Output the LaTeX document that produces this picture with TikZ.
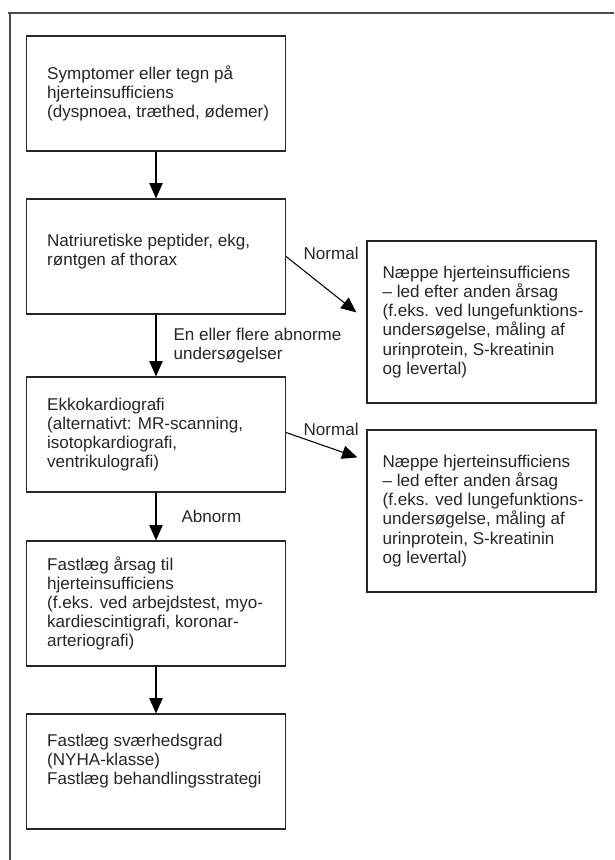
\documentclass[tikz,border=0pt]{standalone}
\usepackage{fontspec}
\setmainfont{Liberation Sans}
\usetikzlibrary{arrows.meta}

\begin{document}
\begin{tikzpicture}[x=0.75pt, y=-0.75pt]
\tikzstyle{box} = [draw=black!85, line width=0.9pt, minimum width=194.25pt, minimum height=86.25pt, inner sep=0pt]
\tikzstyle{sidebox} = [box, minimum width=171.75pt, minimum height=121.5pt]
\tikzstyle{txt} = [align=left, inner sep=0pt, text=black!85, font=\fontsize{12.8}{14.3}\selectfont]
\tikzstyle{arr} = [-{Triangle[width=10pt,length=11.5pt]}, line width=0.8pt]
\useasboundingbox (0,0) rectangle (614,860);

% open frame
\draw [black!70, line width=0.8pt] (8,13) -- (614,13);
\draw [black!70, line width=0.8pt] (10,13) -- (10,860);

\node [box] (sympt) at (156, 93.5) {};
\node [box] (tests) at (156, 256.5) {};
\node [box] (echo) at (156, 434.5) {};
\node [box, minimum height=93.75pt] (cause) at (156, 603.5) {};
\node [box] (sever) at (156, 771.5) {};
\node [sidebox] (unlik1) at (481.5, 322) {};
\node [sidebox] (unlik2) at (481.5, 511) {};

\node [txt, anchor=west] (symptT) at ([xshift=15.75pt]sympt.west)
  {Symptomer eller tegn på\\hjerteinsufficiens\\(dyspnoea, træthed, ødemer)};
\node [txt, anchor=west] (testsT) at ([xshift=15.75pt, yshift=3.75pt]tests.west)
  {Natriuretiske peptider, ekg,\\røntgen af thorax};
\node [txt, anchor=west] (echoT) at ([xshift=15.75pt]echo.west)
  {Ekkokardiografi\\(alternativt: MR-scanning,\\isotopkardiografi,\\ventrikulografi)};
\node [txt, anchor=west] (causeT) at ([xshift=15.75pt]cause.west)
  {Fastlæg årsag til\\hjerteinsufficiens\\(f.eks. ved arbejdstest, myo-\\kardiescintigrafi, koronar-\\arteriografi)};
\node [txt, anchor=west] (severT) at ([xshift=15.75pt, yshift=7.5pt]sever.west)
  {Fastlæg sværhedsgrad\\(NYHA-klasse)\\Fastlæg behandlingsstrategi};
\node [txt, anchor=west] (unlik1T) at ([xshift=12pt]unlik1.west)
  {Næppe hjerteinsufficiens\\– led efter anden årsag\\(f.eks. ved lungefunktions-\\undersøgelse, måling af\\urinprotein, S-kreatinin\\og levertal)};
\node [txt, anchor=west] (unlik2T) at ([xshift=12pt]unlik2.west)
  {Næppe hjerteinsufficiens\\– led efter anden årsag\\(f.eks. ved lungefunktions-\\undersøgelse, måling af\\urinprotein, S-kreatinin\\og levertal)};

\draw [arr] (sympt) -- (tests);
\draw [arr] (tests) -- node [txt, anchor=west, xshift=12.75pt] (abn1) {En eller flere abnorme\\undersøgelser} (echo);
\draw [arr] (echo) -- node [txt, anchor=west, xshift=18.75pt] (abn2) {Abnorm} (cause);
\draw [arr] (cause) -- (sever);

\draw [arr] (tests.east) -- ([xshift=-7.5pt, yshift=-54pt]unlik1.north west)
  node [txt, pos=0, anchor=base west, xshift=12.75pt, yshift=-1.9pt] (norm1) {Normal};
\draw [arr] ([yshift=1.5pt]echo.east) -- ([xshift=-6.75pt, yshift=-21pt]unlik2.north west)
  node [txt, pos=0, anchor=base west, xshift=12.75pt, yshift=-1.9pt] (norm2) {Normal};
\end{tikzpicture}
\end{document}
